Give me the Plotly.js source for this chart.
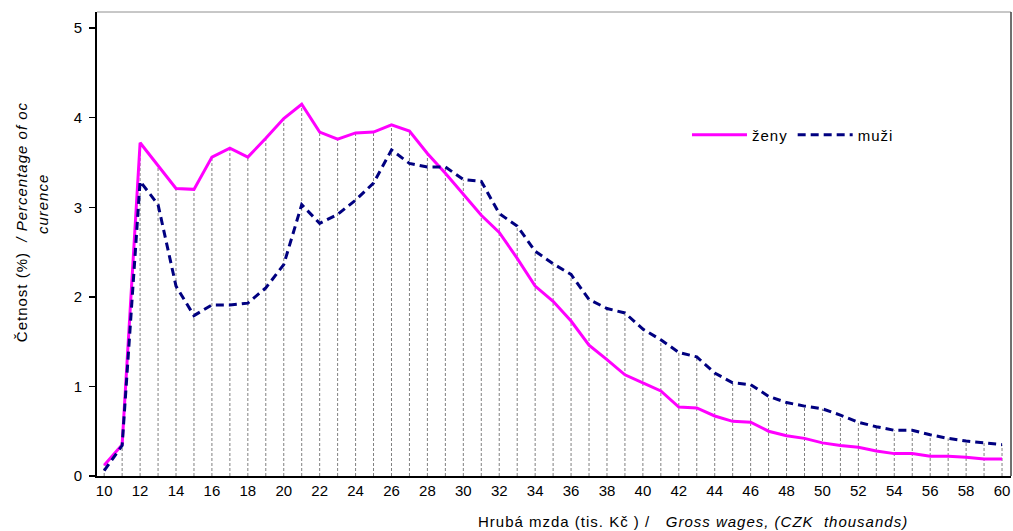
<!DOCTYPE html>
<html>
<head>
<meta charset="utf-8">
<script src="https://cdn.plot.ly/plotly-3.0.1.min.js"></script>
<style>
html, body { margin: 0; padding: 0; background: #fff; }
#chart { width: 1013px; height: 531px; }
.legendtext, .annotation-text { letter-spacing: 1px; }
</style>
</head>
<body>
<div id="chart"></div>
<script>
// Gross wage bands (CZK thousands)
var wages = [10,11,12,13,14,15,16,17,18,19,20,21,22,23,24,25,26,27,28,29,30,31,32,33,34,35,36,37,38,39,40,41,42,43,44,45,46,47,48,49,50,51,52,53,54,55,56,57,58,59,60];
// Women (ženy), % of occurrence
var zeny = [0.12,0.35,3.72,3.46,3.21,3.20,3.56,3.66,3.56,3.77,3.99,4.15,3.84,3.76,3.83,3.84,3.92,3.85,3.60,3.38,3.14,2.91,2.72,2.43,2.12,1.95,1.73,1.46,1.30,1.13,1.04,0.95,0.77,0.76,0.67,0.61,0.60,0.50,0.45,0.42,0.37,0.34,0.32,0.28,0.25,0.25,0.22,0.22,0.21,0.19,0.19];
// Men (muži), % of occurrence
var muzi = [0.06,0.34,3.29,3.03,2.12,1.79,1.91,1.91,1.93,2.10,2.36,3.03,2.82,2.92,3.08,3.27,3.64,3.49,3.45,3.45,3.31,3.29,2.93,2.79,2.51,2.37,2.25,1.97,1.87,1.82,1.64,1.52,1.38,1.33,1.15,1.04,1.02,0.89,0.82,0.78,0.75,0.68,0.60,0.55,0.51,0.51,0.46,0.42,0.39,0.37,0.35];
var yTicks = [0,1,2,3,4,5];
var xTicks = [10,12,14,16,18,20,22,24,26,28,30,32,34,36,38,40,42,44,46,48,50,52,54,56,58,60];

var FONT = 'Liberation Sans, Arial, sans-serif';

// drop lines from axis to the higher of the two series
var dropX = [], dropY = [];
for (var i = 0; i < wages.length; i++) {
  dropX.push(wages[i], wages[i], null);
  dropY.push(0, Math.max(zeny[i], muzi[i]), null);
}

var traces = [
  {x: dropX, y: dropY, mode: 'lines', showlegend: false, hoverinfo: 'skip',
   line: {color: '#808080', width: 1, dash: '3px,2px'}},
  {x: wages, y: zeny, name: 'ženy', mode: 'lines',
   line: {color: '#FF00FF', width: 3}},
  {x: wages, y: muzi, name: 'muži', mode: 'lines',
   line: {color: '#000080', width: 3, dash: '8px,5px'}}
];

var layout = {
  width: 1013, height: 531,
  margin: {l: 97, r: 2, t: 12, b: 55},
  paper_bgcolor: '#fff', plot_bgcolor: '#fff',
  font: {family: FONT, size: 15, color: '#000'},
  showlegend: true,
  legend: {orientation: 'h', x: 0.6455, xanchor: 'left', y: 0.735, yanchor: 'middle',
           font: {family: FONT, size: 15, color: '#000'}, bgcolor: 'rgba(0,0,0,0)',
           itemwidth: 55, traceorder: 'normal'},
  xaxis: {range: [9.6, 60.5], tickmode: 'array', tickvals: xTicks, ticktext: xTicks.map(String),
          ticks: '', showline: true, linecolor: '#000', linewidth: 2, showgrid: false,
          zeroline: false, tickfont: {family: FONT, size: 15, color: '#000'}, fixedrange: true},
  yaxis: {range: [0, 5.18], tickmode: 'array', tickvals: yTicks, ticktext: yTicks.map(String),
          ticks: 'outside', ticklen: 6, tickwidth: 1.5, tickcolor: '#000',
          showline: true, linecolor: '#000', linewidth: 2, showgrid: false, zeroline: false,
          ticklabelstandoff: 4,
          tickfont: {family: FONT, size: 15, color: '#000'}, fixedrange: true},
  shapes: [
    {type: 'line', xref: 'paper', yref: 'paper', x0: 0, x1: 1, y0: 1, y1: 1,
     line: {color: '#909090', width: 1}},
    {type: 'line', xref: 'paper', yref: 'paper', x0: 1, x1: 1, y0: 0, y1: 1,
     line: {color: '#404040', width: 1.5}}
  ],
  annotations: [
    {xref: 'paper', yref: 'paper', x: 0, y: 0.547, xshift: -76, textangle: -90,
     xanchor: 'center', yanchor: 'middle', showarrow: false,
     text: 'Četnost (%)  <i>/ Percentage of oc</i>', font: {family: FONT, size: 15, color: '#000'}},
    {xref: 'paper', yref: 'paper', x: 0, y: 0.586, xshift: -55, textangle: -90,
     xanchor: 'center', yanchor: 'middle', showarrow: false,
     text: '<i>curence</i>', font: {family: FONT, size: 15, color: '#000'}},
    {xref: 'paper', yref: 'paper', x: 0.652, y: -0.097, xanchor: 'center', yanchor: 'middle',
     showarrow: false, text: 'Hrubá mzda (tis. Kč ) /   <i>Gross wages, (CZK  thousands)</i>',
     font: {family: FONT, size: 15, color: '#000'}}
  ],
  hovermode: false
};

Plotly.newPlot('chart', traces, layout, {displayModeBar: false, staticPlot: true});
</script>
</body>
</html>
